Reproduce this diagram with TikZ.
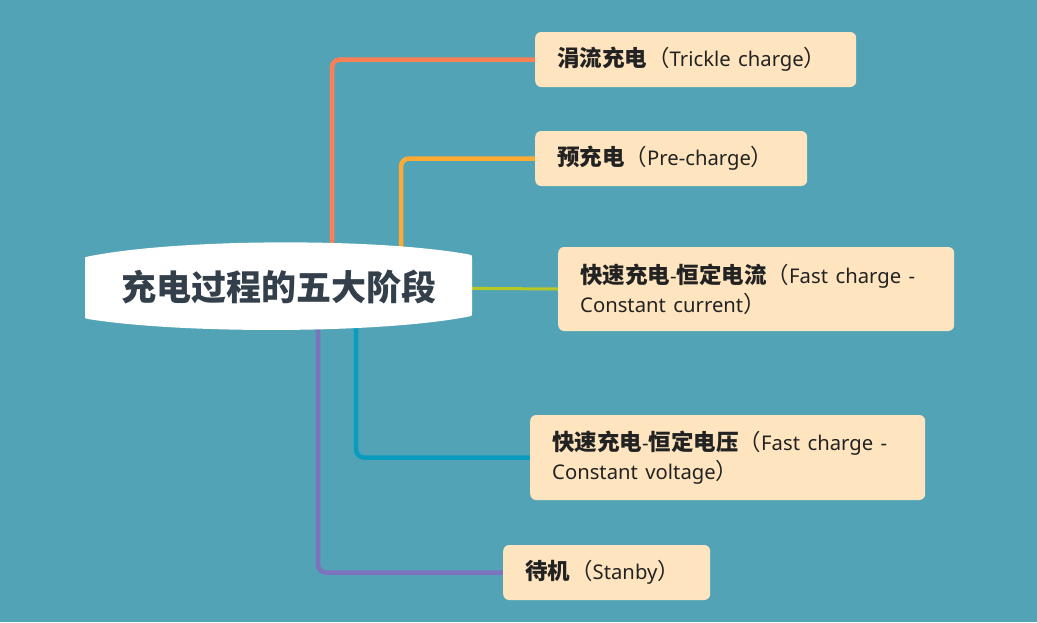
\documentclass[tikz,border=0pt]{standalone}
\usepackage{fontspec}
\setmainfont{Noto Sans CJK SC}
\newfontfamily\lat[Scale=0.9]{Noto Sans}
\usetikzlibrary{backgrounds}
\definecolor{bg}{HTML}{52A3B5}
\definecolor{boxfill}{HTML}{FFE5BF}
\definecolor{boxtext}{HTML}{222222}
\definecolor{roottext}{HTML}{333F4B}
\definecolor{corange}{HTML}{FF7F55}
\definecolor{cyellow}{HTML}{FFAA35}
\definecolor{cgreen}{HTML}{B5C824}
\definecolor{cteal}{HTML}{0A9CBE}
\definecolor{cpurple}{HTML}{7C72BE}
\tikzset{
  stagebox/.style={fill=boxfill, rounded corners=6pt, anchor=west, align=left,
    inner xsep=22pt, inner ysep=0pt, minimum height=55pt, text=boxtext,
    font=\fontsize{22.5}{29}\selectfont},
  branch/.style={line width=4.5pt, rounded corners=8pt},
}
\begin{document}
\begin{tikzpicture}[x=1pt,y=-1pt]
% central topic
\fill[white] (85,259) .. controls (85,257) .. (88,256.5) .. controls (180,238) and (380,238) .. (469,254.5) .. controls (472,255) .. (472,258) -- (472,313) .. controls (472,316) .. (469,316.5) .. controls (380,334) and (180,334) .. (88,319) .. controls (85,318.5) .. (85,316) -- cycle;
\node[text=roottext, font=\bfseries\fontsize{35}{40}\selectfont, minimum width=387pt, minimum height=63pt, inner sep=0pt] (root) at (279,287) {充电过程的五大阶段};

% stages
\node[stagebox, text width=277pt] (b1) at (535,59.5) {{\bfseries 涓流充电}（{\lat Trickle charge}）};
\node[stagebox, text width=228pt] (b2) at (535,158.5) {{\bfseries 预充电}（{\lat Pre-charge}）};
\node[stagebox, text width=352pt, minimum height=84pt] (b3) at (558,289) {{\bfseries 快速充电{\lat -}恒定电流}（{\lat Fast charge -}\\{\lat Constant current}）};
\node[stagebox, text width=351pt, minimum height=85pt] (b4) at (530,457.5) {{\bfseries 快速充电{\lat -}恒定电压}（{\lat Fast charge -}\\{\lat Constant voltage}）};
\node[stagebox, text width=163pt] (b5) at (503,572.5) {{\bfseries 待机}（{\lat Stanby}）};

\begin{scope}[on background layer]
\fill[bg] (0,0) rectangle (1037,622);
\draw[branch, corange] ([xshift=53pt]root.center) |- (b1.west);
\draw[branch, cyellow] ([xshift=122pt]root.center) |- (b2.west);
\draw[line width=3pt, cgreen] (root.center) -- (b3.west);
\draw[branch, cteal] ([xshift=77pt]root.center) |- (b4.west);
\draw[branch, cpurple] ([xshift=39pt]root.center) |- (b5.west);
\end{scope}
\useasboundingbox (0,0) rectangle (1037,622);
\end{tikzpicture}
\end{document}
